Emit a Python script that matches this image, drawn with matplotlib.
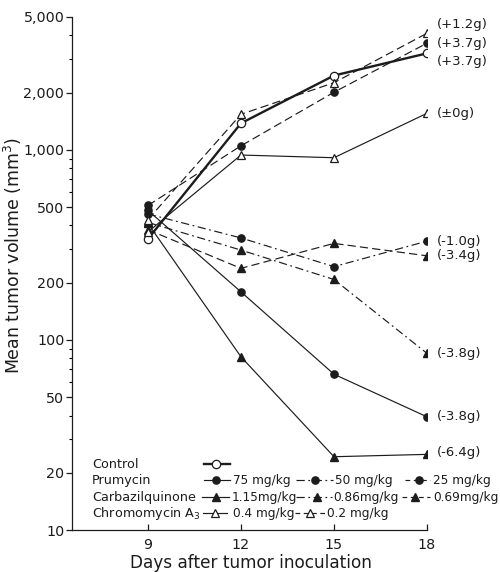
import matplotlib
matplotlib.use("Agg")
import matplotlib.pyplot as plt
from matplotlib.lines import Line2D

plt.rcParams['font.family'] = ['DejaVu Sans']

# ---------------- data ----------------
days = [9, 12, 15, 18]

control = [340, 1380, 2460, 3220]
prumycin_75 = [480, 179, 66, 39.4]
prumycin_50 = [460, 344, 243, 331]
prumycin_25 = [510, 1050, 2010, 3640]
carbazil_115 = [410, 81.5, 24.3, 25]
carbazil_086 = [415, 297, 208, 85]
carbazil_069 = [380, 238, 322, 277]
chromo_04 = [370, 939, 909, 1557]
chromo_02 = [430, 1538, 2255, 4105]

end_labels = ["(+1.2g)", "(+3.7g)", "(+3.7g)", "(±0g)", "(-1.0g)",
              "(-3.4g)", "(-3.8g)", "(-3.8g)", "(-6.4g)"]

y_major = [10, 20, 50, 100, 200, 500, 1000, 2000, 5000]
y_major_labels = ["10", "20", "50", "100", "200", "500", "1,000", "2,000", "5,000"]
y_minor = [30, 40, 60, 70, 80, 90, 300, 400, 600, 700, 800, 900, 3000, 4000]

# ---------------- styles ----------------
C = '#1c1c1c'
DASH = (0, (7, 3.5))
DASHDOT = (0, (7, 3, 1.5, 3))
fill_c = dict(marker='o', markersize=5.2, markerfacecolor=C, markeredgecolor=C)
open_c = dict(marker='o', markersize=6, markerfacecolor='white', markeredgecolor=C, markeredgewidth=0.9)
fill_t = dict(marker='^', markersize=5.5, markerfacecolor=C, markeredgecolor=C)
open_t = dict(marker='^', markersize=6, markerfacecolor='white', markeredgecolor=C, markeredgewidth=0.9)

series = [
    (control, '-', 1.7, open_c),
    (prumycin_75, '-', 0.85, fill_c),
    (prumycin_50, DASHDOT, 0.85, fill_c),
    (prumycin_25, DASH, 0.85, fill_c),
    (carbazil_115, '-', 0.85, fill_t),
    (carbazil_086, DASHDOT, 0.85, fill_t),
    (carbazil_069, DASH, 0.85, fill_t),
    (chromo_04, '-', 0.85, open_t),
    (chromo_02, DASH, 0.85, open_t),
]

fig = plt.figure(figsize=(5.0, 5.72), dpi=100)
ax = fig.add_axes([0.144, 0.0734, 0.71, 0.8969])

for vals, ls, lw, mk in series:
    ax.plot(days, vals, linestyle=ls, linewidth=lw, color=C, **mk)

ax.set_yscale('log')
ax.set_ylim(10, 5000)
ax.set_xlim(6.55, 18)

ax.set_yticks(y_major)
ax.set_yticklabels(y_major_labels)
ax.set_yticks(y_minor, minor=True)
ax.set_yticklabels([], minor=True)
ax.set_xticks(days)
ax.set_xticklabels([str(d) for d in days])

ax.tick_params(axis='y', which='major', direction='out', length=4, width=0.9,
               pad=1.5, labelsize=10.3, colors=C)
ax.tick_params(axis='y', which='minor', direction='out', length=2.5, width=0.8)
ax.tick_params(axis='x', which='major', direction='in', length=4, width=0.9,
               pad=6, labelsize=10.3, colors=C)
ax.tick_params(axis='x', which='minor', bottom=False)

for s in ['top', 'right']:
    ax.spines[s].set_visible(False)
for s in ['left', 'bottom']:
    ax.spines[s].set_linewidth(0.9)
    ax.spines[s].set_color(C)

ax.set_ylabel("Mean tumor volume (mm$^3$)", fontsize=12.5, color=C)
ax.set_xlabel("Days after tumor inoculation", fontsize=12.2, color=C)
ax.yaxis.set_label_coords(-0.135, 0.535)
ax.xaxis.set_label_coords(0.504, -0.046)

# end-of-line annotations
end_vals = [chromo_02[-1], prumycin_25[-1], control[-1], chromo_04[-1],
            prumycin_50[-1], carbazil_069[-1], carbazil_086[-1],
            prumycin_75[-1], carbazil_115[-1]]
dy = [6, 0, -6, 0, 0, 0, 0, 0, 1]
for lab, v, d in zip(end_labels, end_vals, dy):
    ax.annotate(lab, xy=(days[-1], v), xytext=(7, d), textcoords='offset points',
                ha='left', va='center', fontsize=9.5, color=C, annotation_clip=False)

# ---------------- custom legend ----------------
def px(x):
    return (x - 72) / 355.0

def py(y):
    return (530 - y) / 513.0

tr = ax.transAxes

def sample(x0, x1, y, ls, lw, mk, xm=None):
    ax.add_line(Line2D([px(x0), px(x1)], [py(y), py(y)], transform=tr,
                       linestyle=ls, linewidth=lw, color=C, clip_on=False))
    if xm is None:
        xm = (x0 + x1) / 2
    ax.add_line(Line2D([px(xm)], [py(y)], transform=tr, linestyle='none',
                       color=C, clip_on=False, **mk))

def txt(x, y, s, size=8.7):
    ax.text(px(x), py(y), s, transform=tr, ha='left', va='center', fontsize=size, color=C)

SHORT_DASH = (0, (4, 3))
rows = [464, 480, 497, 513]
txt(92, rows[0], "Control", 9.2)
txt(92, rows[1], "Prumycin", 9.2)
txt(92, rows[2], "Carbazilquinone", 9.2)
txt(92, rows[3], "Chromomycin A$_3$", 9.2)

sample(204, 230, rows[0], '-', 1.7, open_c, 216)

sample(204, 230, rows[1], '-', 0.85, fill_c, 216)
txt(233, rows[1], "75 mg/kg")
sample(296, 333, rows[1], DASHDOT, 0.85, fill_c, 315)
txt(335, rows[1], "50 mg/kg")
sample(405, 430, rows[1], SHORT_DASH, 0.85, fill_c, 419)
txt(433, rows[1], "25 mg/kg")

sample(202, 229, rows[2], '-', 0.85, fill_t, 216)
txt(232, rows[2], "1.15mg/kg")
sample(296, 332, rows[2], DASHDOT, 0.85, fill_t, 317)
txt(333, rows[2], "0.86mg/kg")
sample(402, 430, rows[2], SHORT_DASH, 0.85, fill_t, 415)
txt(433, rows[2], "0.69mg/kg")

sample(203, 227, rows[3], '-', 0.85, open_t, 215)
txt(233, rows[3], "0.4 mg/kg")
sample(295, 325, rows[3], SHORT_DASH, 0.85, open_t, 310)
txt(327, rows[3], "0.2 mg/kg")

fig.savefig("out.png", dpi=100)
